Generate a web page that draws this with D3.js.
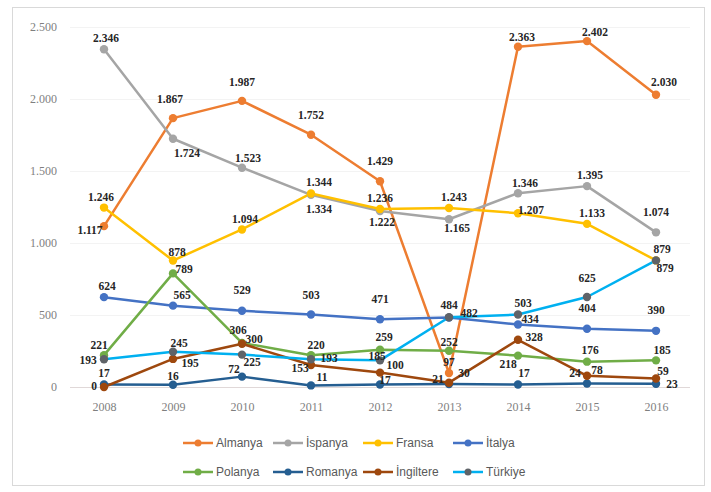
<!DOCTYPE html>
<html>
<head>
<meta charset="utf-8">
<script src="https://cdn.jsdelivr.net/npm/d3@7"></script>
<style>
  body { margin: 0; background: #fff; }
  .tick-label { font-family: "Liberation Serif", "DejaVu Serif", serif; font-size: 12px; fill: #7f7f7f; }
  .data-label { font-family: "Liberation Serif", "DejaVu Serif", serif; font-size: 11.5px; font-weight: bold; fill: #262626; }
  .legend { font-family: "Liberation Sans", "Open Sans", sans-serif; font-size: 12px; fill: #595959; }
</style>
</head>
<body>
<div id="chart"></div>
<script>
// data
const years = ["2008", "2009", "2010", "2011", "2012", "2013", "2014", "2015", "2016"];
const yTicks = [0, 500, 1000, 1500, 2000, 2500];

const almanya   = [1117, 1867, 1987, 1752, 1429, 97, 2363, 2402, 2030];
const ispanya   = [2346, 1724, 1523, 1334, 1222, 1165, 1346, 1395, 1074];
const fransa    = [1246, 878, 1094, 1344, 1236, 1243, 1207, 1133, 879];
const italya    = [624, 565, 529, 503, 471, 482, 434, 404, 390];
const polanya   = [221, 789, 306, 220, 259, 252, 218, 176, 185];
const romanya   = [17, 16, 72, 11, 17, 21, 17, 24, 23];
const ingiltere = [0, 195, 300, 153, 100, 30, 328, 78, 59];
const turkiye   = [193, 245, 225, 193, 185, 484, 503, 625, 879];

const seriesNames = ["Almanya", "İspanya", "Fransa", "İtalya", "Polanya", "Romanya", "İngiltere", "Türkiye"];
const seriesValues = [almanya, ispanya, fransa, italya, polanya, romanya, ingiltere, turkiye];

// styles
const lineColors = ["#ED7D31", "#A5A5A5", "#FFC000", "#4472C4", "#70AD47", "#255E91", "#9E480E", "#00B0F0"];
const markerColors = ["#ED7D31", "#A5A5A5", "#FFC000", "#4472C4", "#70AD47", "#255E91", "#9E480E", "#5f6368"];

// label offsets [dx, dy] from each point (label centre)
const labelOffsets = [
  [[-14, 4], [-3, -19], [0, -19], [0, -20], [0, -20], [0, -11], [4, -10], [8, -9], [8, -13]],
  [[2, -11], [14, 14], [6, -10], [8, 14], [2, 11], [8, 9], [7, -10], [3, -11], [0, -20]],
  [[-3, -11], [4, -9], [3, -10], [8, -11], [0, -11], [5, -11], [13, -3], [5, -11], [6, -11]],
  [[3, -11], [9, -11], [0, -21], [0, -20], [0, -20], [20, -5], [12, -6], [0, -21], [0, -21]],
  [[-5, -10], [11, -4], [-4, -13], [5, -10], [4, -13], [0, -9], [-10, 8], [3, -12], [6, -10]],
  [[0, -12], [0, -9], [-8, -8], [11, -8], [5, -5], [-11, -5], [6, -12], [-12, -11], [16, 0]],
  [[-10, -1], [17, 4], [12, -5], [-11, 3], [15, -8], [15, -10], [16, -3], [10, -6], [7, -8]],
  [[-16, 1], [6, -9], [10, 7], [18, -1], [-3, -4], [0, -12], [5, -12], [0, -19], [9, 8]]
];

const width = 711, height = 492;
const fmt = v => d3.format(",")(v).replace(/,/g, ".");

const svg = d3.select("#chart")
  .append("svg")
  .attr("width", width)
  .attr("height", height);

// outer frame
svg.append("rect")
  .attr("x", 12.5).attr("y", 7.5)
  .attr("width", 692).attr("height", 478)
  .attr("fill", "#fff")
  .attr("stroke", "#d9d9d9");

const x = d3.scalePoint().domain(years).range([104, 656]);
const y = d3.scaleLinear().domain([0, 2500]).range([387, 27]);

// gridlines
svg.append("g")
  .selectAll("line")
  .data(yTicks)
  .join("line")
  .attr("x1", 70).attr("x2", 690)
  .attr("y1", d => y(d) + 0.5).attr("y2", d => y(d) + 0.5)
  .attr("stroke", d => d === 0 ? "#e0d8d8" : "#f3f3f3")
  .attr("stroke-width", 1);

// y axis labels
svg.append("g")
  .attr("transform", "translate(57,0)")
  .call(d3.axisLeft(y).tickValues(yTicks).tickSize(0).tickPadding(0).tickFormat(fmt))
  .call(g => g.select(".domain").remove())
  .call(g => g.selectAll("text").attr("class", "tick-label").attr("fill", null));

// x axis labels
svg.append("g")
  .attr("transform", "translate(0,398)")
  .call(d3.axisBottom(x).tickSize(0).tickPadding(4))
  .call(g => g.select(".domain").remove())
  .call(g => g.selectAll("text").attr("class", "tick-label").attr("fill", null));

const line = d3.line()
  .x((d, i) => x(years[i]))
  .y(d => y(d));

// lines
seriesValues.forEach((vals, s) => {
  svg.append("path")
    .datum(vals)
    .attr("fill", "none")
    .attr("stroke", lineColors[s])
    .attr("stroke-width", 2.5)
    .attr("stroke-linejoin", "round")
    .attr("d", line);
});

// markers
seriesValues.forEach((vals, s) => {
  svg.append("g")
    .selectAll("circle")
    .data(vals)
    .join("circle")
    .attr("cx", (d, i) => x(years[i]))
    .attr("cy", d => y(d))
    .attr("r", 4.2)
    .attr("fill", markerColors[s]);
});

// data labels
seriesValues.forEach((vals, s) => {
  svg.append("g")
    .selectAll("text")
    .data(vals)
    .join("text")
    .attr("class", "data-label")
    .attr("x", (d, i) => x(years[i]) + labelOffsets[s][i][0])
    .attr("y", (d, i) => y(d) + labelOffsets[s][i][1])
    .attr("text-anchor", "middle")
    .attr("dominant-baseline", "central")
    .text(d => fmt(d));
});

// legend
const legend = svg.append("g")
  .selectAll("g")
  .data(seriesNames)
  .join("g")
  .attr("transform", (d, i) => `translate(${183 + (i % 4) * 90}, ${i < 4 ? 443 : 472})`);

legend.append("line")
  .attr("x1", 0).attr("x2", 30)
  .attr("stroke", (d, i) => lineColors[i])
  .attr("stroke-width", 2.5);

legend.append("circle")
  .attr("cx", 15)
  .attr("r", 3.5)
  .attr("fill", (d, i) => markerColors[i]);

legend.append("text")
  .attr("class", "legend")
  .attr("x", 33)
  .attr("dominant-baseline", "central")
  .text(d => d);
</script>
</body>
</html>
